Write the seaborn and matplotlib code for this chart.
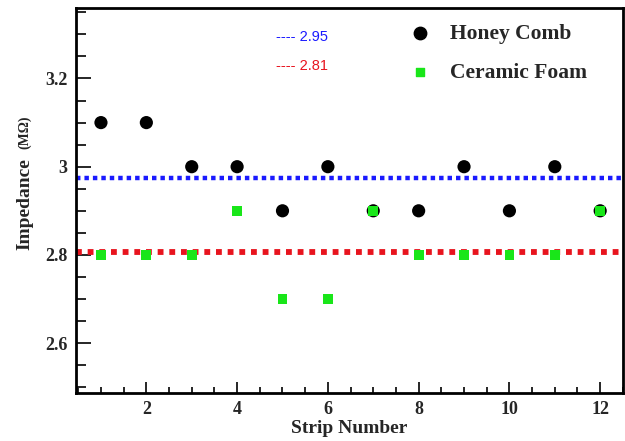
import numpy as np
import pandas as pd
import matplotlib
matplotlib.use('Agg')
import matplotlib.pyplot as plt
import seaborn as sns
from matplotlib.ticker import MultipleLocator

# 데이터
strips = [1, 2, 3, 4, 5, 6, 7, 8, 9, 10, 11, 12]
honey_comb = [3.1, 3.1, 3.0, 3.0, 2.9, 3.0, 2.9, 2.9, 3.0, 2.9, 3.0, 2.9]
ceramic_foam = [2.8, 2.8, 2.8, 2.9, 2.7, 2.7, 2.9, 2.8, 2.8, 2.8, 2.8, 2.9]
mean_lines = [2.975, 2.807]
mean_labels = ['---- 2.95', '---- 2.81']
mean_colors = ['#1a1aff', '#e8141e']

sns.set_style('white')
plt.rcParams['font.family'] = ['Liberation Serif', 'DejaVu Serif']

df = pd.DataFrame({
    'strip': strips * 2,
    'imp': honey_comb + ceramic_foam,
    'type': ['Honey Comb'] * len(strips) + ['Ceramic Foam'] * len(strips),
})

fig = plt.figure(figsize=(6.25, 4.41), dpi=100)
ax = fig.add_axes([0.1216, 0.109, 0.875, 0.873])

ax.axhline(mean_lines[0], color=mean_colors[0], linestyle=(0, (1, 0.9)), linewidth=3.2, zorder=1)
ax.axhline(mean_lines[1], color=mean_colors[1], linestyle=(0, (1, 1)), linewidth=4.2, zorder=1)

sns.scatterplot(data=df, x='strip', y='imp', hue='type', style='type',
                palette={'Honey Comb': 'black', 'Ceramic Foam': '#19e619'},
                markers={'Honey Comb': 'o', 'Ceramic Foam': 's'},
                size='type', sizes={'Honey Comb': 90, 'Ceramic Foam': 50},
                edgecolor='none', ax=ax, zorder=3, legend=False)

# 범례 (수동)
ax.scatter([], [], marker='o', s=80, color='black', label='Honey Comb')
ax.scatter([], [], marker='s', s=35, color='#19e619', label='Ceramic Foam')
leg = ax.legend(loc='upper right', bbox_to_anchor=(0.97, 1.01), frameon=False,
                prop={'family': 'Liberation Serif', 'weight': 'bold', 'size': 15.5},
                handletextpad=0.8, labelspacing=0.9, borderaxespad=0.5, handlelength=1.2)

for i, (lab, c) in enumerate(zip(mean_labels, mean_colors)):
    ax.text(0.365, 0.925 - i * 0.075, lab, color=c, fontsize=10.5,
            family='Liberation Sans', transform=ax.transAxes, va='center')

ax.set_xlim(0.45, 12.5)
ax.set_ylim(2.487, 3.36)
ax.set_xticks([2, 4, 6, 8, 10, 12])
ax.set_yticks([2.6, 2.8, 3.0, 3.2])
ax.set_yticklabels(['2.6', '2.8', '3', '3.2'])
ax.xaxis.set_minor_locator(MultipleLocator(0.5))
ax.yaxis.set_minor_locator(MultipleLocator(0.05))
ax.tick_params(which='both', direction='in', top=False, right=False,
               left=True, bottom=True, width=1.4)
ax.tick_params(which='major', labelsize=13, pad=6)
ax.tick_params(axis='y', which='major', length=11)
ax.tick_params(axis='y', which='minor', length=7)
ax.tick_params(axis='x', which='major', length=8)
ax.tick_params(axis='x', which='minor', length=4.5)
for t in ax.get_xticklabels() + ax.get_yticklabels():
    t.set_fontweight('bold')

for s in ax.spines.values():
    s.set_linewidth(2)
    s.set_color('black')

ax.set_xlabel('Strip Number', fontsize=14, fontweight='bold', labelpad=1)
ax.set_ylabel('')
fig.text(0.04, 0.537, 'Impedance', rotation=90, fontsize=14, fontweight='bold',
         ha='center', va='center')
fig.text(0.04, 0.70, '(MΩ)', rotation=90, fontsize=10, fontweight='bold',
         ha='center', va='center')

fig.savefig('out.png', dpi=100)
